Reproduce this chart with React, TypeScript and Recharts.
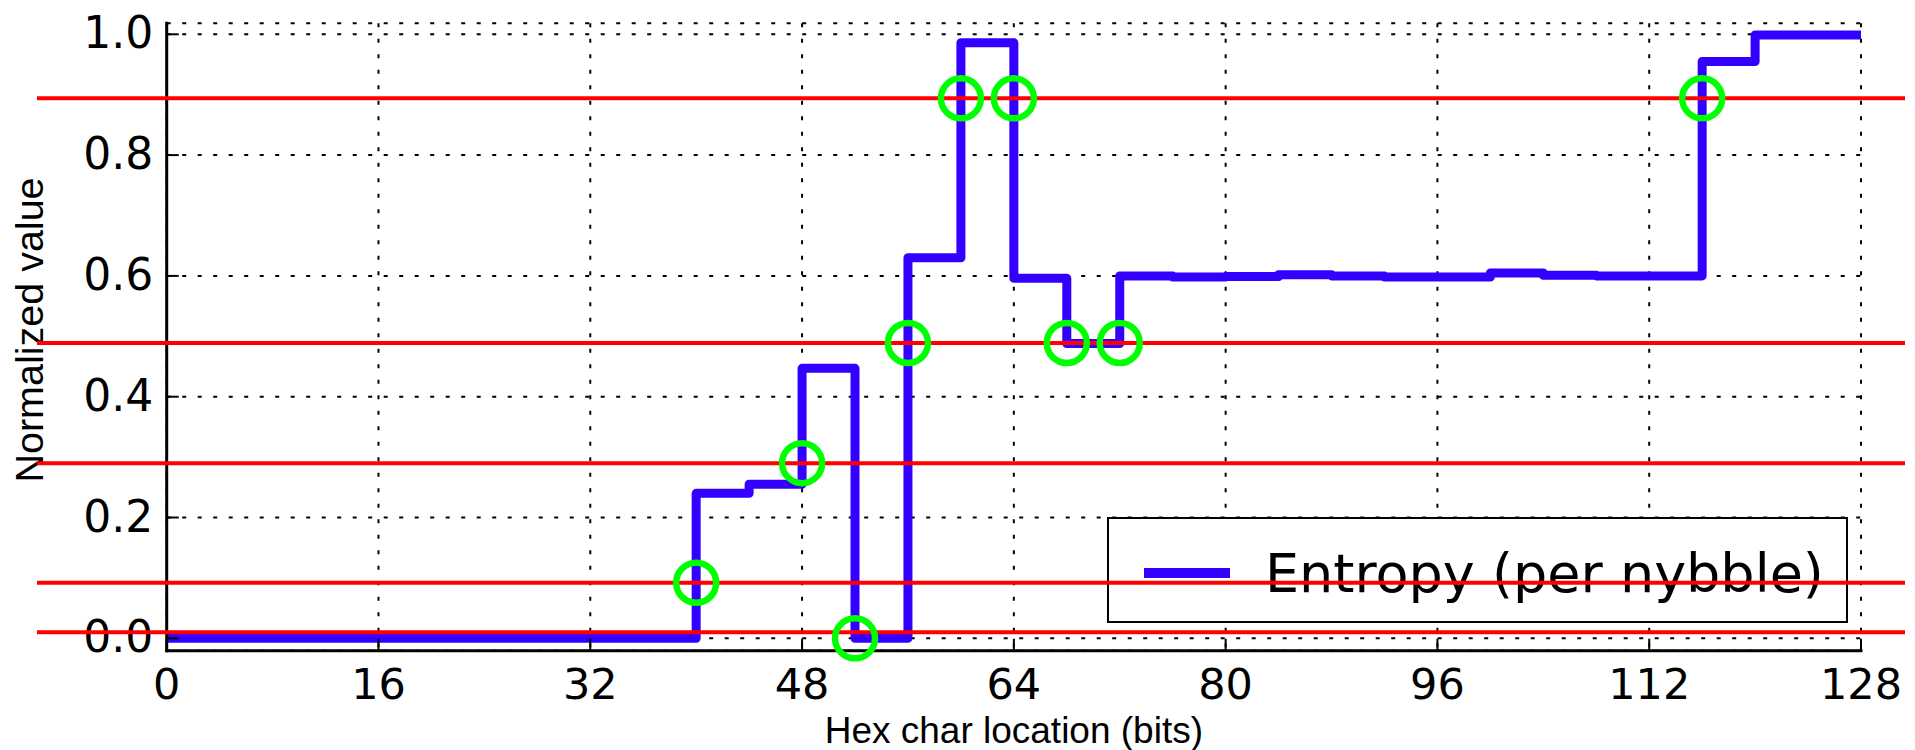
import React from 'react';
import {
  ComposedChart,
  LineChart,
  Line,
  XAxis,
  YAxis,
  CartesianGrid,
  Legend,
  ReferenceLine,
  Scatter,
} from 'recharts';

// ---------------- data ----------------
const bitPositions = [
  0, 4, 8, 12, 16, 20, 24, 28, 32, 36, 40, 44, 48, 52, 56, 60, 64, 68, 72, 76, 80,
  84, 88, 92, 96, 100, 104, 108, 112, 116, 120, 124, 128,
];
const entropyValues = [
  0, 0, 0, 0, 0, 0, 0, 0, 0, 0, 0.24, 0.255, 0.447, 0, 0.63, 0.986, 0.596, 0.488,
  0.6, 0.598, 0.599, 0.602, 0.6, 0.598, 0.598, 0.605, 0.601, 0.6, 0.6, 0.955, 0.999,
  0.999, 0.999,
];
const xTicks = [0, 16, 32, 48, 64, 80, 96, 112, 128];
const yTicks = [0, 0.2, 0.4, 0.6, 0.8, 1.0];
const thresholds = [0.01, 0.092, 0.29, 0.489, 0.894];
const crossingBits = [40, 48, 52, 56, 60, 64, 68, 72, 116];
const crossingValues = [0.092, 0.29, 0, 0.489, 0.894, 0.894, 0.489, 0.489, 0.894];
const seriesName = 'Entropy (per nybble)';
const xTitle = 'Hex char location (bits)';
const yTitle = 'Normalized value';

const entropyData = bitPositions.map((bit, i) => ({ bit, entropy: entropyValues[i] }));
const crossingData = crossingBits.map((x, i) => ({ x, y: crossingValues[i] }));

// ---------------- layout / style ----------------
const W = 1915;
const H = 750;
const TOP = 23.3;
const RIGHT = 54;
const BOTTOM = 99.3;
const LEFT = 166.7;
const X_DOMAIN: [number, number] = [0, 128];
const Y_DOMAIN: [number, number] = [-0.0205, 1.0182];
const BLUE = '#3300ff';
const RED = '#ff0000';
const GREEN = '#00ff00';
const TICK_FONT = '"DejaVu Sans", sans-serif';
const TITLE_FONT = '"Liberation Sans", Arial, sans-serif';
const TICK_LEN = 12;
const RED_X_START = 37;
const RED_X_END = 1905;

const BottomTick = (props: any) => {
  const { x, y, payload } = props;
  return (
    <g>
      <line x1={x} x2={x} y1={y} y2={y - TICK_LEN} stroke="#000" strokeWidth={2} />
      <text x={x} y={y + 48} textAnchor="middle" fontFamily={TICK_FONT} fontSize={43} fill="#000">
        {payload.value}
      </text>
    </g>
  );
};

const TopTick = (props: any) => {
  const { x, y } = props;
  return <line x1={x} x2={x} y1={y} y2={y + TICK_LEN} stroke="#000" strokeWidth={2} />;
};

const LeftTick = (props: any) => {
  const { x, y, payload } = props;
  return (
    <g>
      <line x1={x} x2={x + TICK_LEN} y1={y} y2={y} stroke="#000" strokeWidth={2} />
      <text x={x - 13.5} y={y + 14} textAnchor="end" fontFamily={TICK_FONT} fontSize={44} fill="#000">
        {Number(payload.value).toFixed(1)}
      </text>
    </g>
  );
};

const RightTick = (props: any) => {
  const { x, y } = props;
  return <line x1={x} x2={x - TICK_LEN} y1={y} y2={y} stroke="#000" strokeWidth={2} />;
};

const XTitle = (props: any) => {
  const vb = props.viewBox || { x: LEFT, y: H - BOTTOM, width: W - LEFT - RIGHT, height: BOTTOM };
  return (
    <text
      x={vb.x + vb.width / 2}
      y={vb.y + 91.8}
      textAnchor="middle"
      fontFamily={TITLE_FONT}
      fontSize={37}
      fill="#000"
    >
      {xTitle}
    </text>
  );
};

const YTitle = (props: any) => {
  const vb = props.viewBox || { x: 0, y: TOP, width: LEFT, height: H - TOP - BOTTOM };
  const cx = 42.7;
  const cy = vb.y + vb.height / 2 - 7;
  return (
    <text
      x={cx}
      y={cy}
      transform={`rotate(-90, ${cx}, ${cy})`}
      textAnchor="middle"
      fontFamily={TITLE_FONT}
      fontSize={39.5}
      fill="#000"
    >
      {yTitle}
    </text>
  );
};

const LegendBox = () => (
  <div
    style={{
      position: 'relative',
      boxSizing: 'border-box',
      width: 741,
      height: 106,
      border: '2px solid #000',
      background: '#fff',
    }}
  >
    <div style={{ position: 'absolute', left: 35, top: 49.3, width: 86, height: 10, background: BLUE }} />
    <span
      style={{
        position: 'absolute',
        left: 156,
        top: 28,
        fontFamily: TICK_FONT,
        fontSize: 54,
        lineHeight: '54px',
        whiteSpace: 'nowrap',
        color: '#000',
      }}
    >
      {seriesName}
    </span>
  </div>
);

const Ring = (props: any) => (
  <circle cx={props.cx} cy={props.cy} r={20} fill="none" stroke={GREEN} strokeWidth={6.5} />
);

const RedLine = (props: any) => (
  <line x1={RED_X_START} x2={RED_X_END} y1={props.y1} y2={props.y2} stroke={RED} strokeWidth={4} />
);

const axisLine = { stroke: '#000', strokeWidth: 3, strokeLinecap: 'square' as const };

export default function App() {
  return (
    <div style={{ position: 'absolute', left: 0, top: 0, width: W, height: H, background: '#fff' }}>
      <div style={{ position: 'absolute', left: 0, top: 0 }}>
        <LineChart
          width={W}
          height={H}
          data={entropyData}
          margin={{ top: TOP, right: RIGHT, bottom: 0, left: 0 }}
        >
          <CartesianGrid stroke="#000" strokeWidth={2} strokeDasharray="4 11.5" />
          <XAxis
            dataKey="bit"
            type="number"
            domain={X_DOMAIN}
            ticks={xTicks}
            interval={0}
            height={BOTTOM}
            tickSize={0}
            tickMargin={0}
            tickLine={false}
            axisLine={axisLine}
            tick={BottomTick}
            label={XTitle}
          />
          <XAxis
            xAxisId="top"
            orientation="top"
            type="number"
            domain={X_DOMAIN}
            ticks={xTicks}
            interval={0}
            height={0}
            tickSize={0}
            tickMargin={0}
            tickLine={false}
            axisLine={axisLine}
            tick={TopTick}
          />
          <YAxis
            type="number"
            domain={Y_DOMAIN}
            ticks={yTicks}
            interval={0}
            width={LEFT}
            tickSize={0}
            tickMargin={0}
            tickLine={false}
            axisLine={axisLine}
            tick={LeftTick}
            label={YTitle}
          />
          <YAxis
            yAxisId="right"
            orientation="right"
            type="number"
            domain={Y_DOMAIN}
            ticks={yTicks}
            interval={0}
            width={0}
            tickSize={0}
            tickMargin={0}
            tickLine={false}
            axisLine={axisLine}
            tick={RightTick}
          />
          <Line
            type="stepAfter"
            dataKey="entropy"
            name={seriesName}
            stroke={BLUE}
            strokeWidth={9}
            strokeLinejoin="round"
            dot={false}
            activeDot={false}
            isAnimationActive={false}
          />
          <Legend
            layout="vertical"
            align="center"
            verticalAlign="middle"
            wrapperStyle={{ left: 1107, top: 517, width: 741, height: 106 }}
            content={() => <LegendBox />}
          />
        </LineChart>
      </div>
      <div style={{ position: 'absolute', left: 0, top: 0, pointerEvents: 'none' }}>
        <ComposedChart
          width={W}
          height={H}
          margin={{ top: TOP, right: RIGHT, bottom: BOTTOM, left: LEFT }}
        >
          <XAxis dataKey="x" type="number" domain={X_DOMAIN} hide />
          <YAxis dataKey="y" type="number" domain={Y_DOMAIN} hide />
          {thresholds.map((v) => (
            <ReferenceLine key={v} y={v} stroke={RED} strokeWidth={4} shape={RedLine} />
          ))}
          <Scatter data={crossingData} shape={Ring} isAnimationActive={false} />
        </ComposedChart>
      </div>
    </div>
  );
}
